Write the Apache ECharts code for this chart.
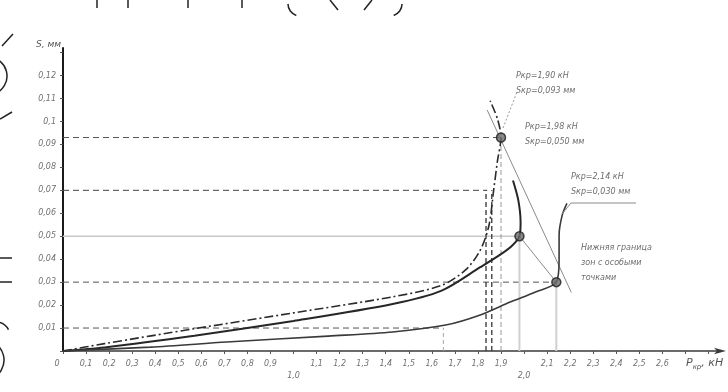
<!DOCTYPE html>
<html>
<head>
<meta charset="utf-8">
<script src="https://cdn.jsdelivr.net/npm/echarts@6/dist/echarts.min.js"></script>
<style>
  html, body { margin: 0; padding: 0; background: #fff; }
  #chart { width: 728px; height: 392px; }
</style>
</head>
<body>
<div id="chart"></div>
<script>
// Load P (кН) versus deflection S (мм) for three loading cases
const curveDashDot = [
  [0, 0], [0.18, 0.0032], [0.57, 0.0097], [1.0, 0.0166], [1.43, 0.0236],
  [1.64, 0.0285], [1.745, 0.0352], [1.81, 0.0439], [1.848, 0.0548],
  [1.868, 0.07], [1.885, 0.083], [1.90, 0.093], [1.885, 0.101], [1.853, 0.109]
];
const curveMiddle = [
  [0, 0], [0.18, 0.0015], [0.57, 0.0066], [1.0, 0.0131], [1.43, 0.0205],
  [1.64, 0.0262], [1.81, 0.0365], [1.9, 0.0422], [1.95, 0.0461],
  [1.98, 0.05], [1.985, 0.056], [1.975, 0.0657], [1.952, 0.0743]
];
const curveLower = [
  [0, 0], [0.38, 0.0017], [0.71, 0.0039], [1.15, 0.0065], [1.43, 0.0083],
  [1.66, 0.0113], [1.81, 0.0157], [1.94, 0.0213], [2.05, 0.0257],
  [2.14, 0.03], [2.152, 0.0396], [2.152, 0.0504], [2.165, 0.059], [2.186, 0.0643]
];

// Critical (limit) points
const critP = [1.90, 1.98, 2.14];
const critS = [0.093, 0.050, 0.030];

// Horizontal projection levels and where they stop
const levelS = [0.093, 0.07, 0.05, 0.03, 0.01];
const levelP = [1.90, 1.84, 1.98, 2.14, 1.65];
// Vertical drops to the load axis
const dropP = [1.835, 1.86, 1.90, 1.98, 2.14, 1.65];
const dropS = [0.07, 0.07, 0.093, 0.05, 0.03, 0.01];

// Line through the critical points
const critLine = [[1.84, 0.105], [2.205, 0.0255]];

const fmtComma = (v, d) => String(parseFloat(v.toFixed(d))).replace('.', ',');

const series = [];

// projection lines
const levelStyles = [
  { color: '#555', type: [6, 4], width: 1 },
  { color: '#444', type: [6, 4], width: 1 },
  { color: '#c8c8c8', type: 'solid', width: 1.5 },
  { color: '#555', type: [6, 4], width: 1 },
  { color: '#555', type: [6, 4], width: 1 }
];
levelS.forEach((s, i) => {
  series.push({
    type: 'line', silent: true, symbol: 'none', z: 1,
    lineStyle: levelStyles[i],
    data: [[0, s], [levelP[i], s]]
  });
});
const dropStyles = [
  { color: '#333', type: [5, 3], width: 1.3 },
  { color: '#333', type: [5, 3], width: 1.3 },
  { color: '#999', type: [5, 3], width: 1 },
  { color: '#d0d0d0', type: 'solid', width: 2 },
  { color: '#d0d0d0', type: 'solid', width: 2 },
  { color: '#aaa', type: [4, 3], width: 1 }
];
dropP.forEach((p, i) => {
  series.push({
    type: 'line', silent: true, symbol: 'none', z: 1,
    lineStyle: dropStyles[i],
    data: [[p, 0], [p, dropS[i]]]
  });
});

// locus of critical points
series.push({
  type: 'line', silent: true, symbol: 'none', z: 2,
  lineStyle: { color: '#8a8a8a', width: 1 },
  data: critLine
});
series.push({
  type: 'line', silent: true, symbol: 'none', z: 2,
  lineStyle: { color: '#8a8a8a', width: 1 },
  data: [[critP[1], critS[1]], [critP[2], critS[2]]]
});

// load–deflection curves
series.push({
  type: 'line', symbol: 'none', smooth: 0.3, z: 3,
  lineStyle: { color: '#2b2b2b', width: 1.6, type: [9, 3, 2, 3] },
  data: curveDashDot
});
series.push({
  type: 'line', symbol: 'none', smooth: 0.3, z: 3,
  lineStyle: { color: '#262626', width: 2 },
  data: curveMiddle
});
series.push({
  type: 'line', symbol: 'none', smooth: 0.3, z: 3,
  lineStyle: { color: '#3a3a3a', width: 1.6 },
  data: curveLower
});

// critical point markers
series.push({
  type: 'scatter', symbol: 'circle', symbolSize: 9, z: 5,
  itemStyle: { color: '#6a6a6a', borderColor: '#1e1e1e', borderWidth: 1.5 },
  data: critP.map((p, i) => [p, critS[i]])
});

const labelLines = critP.map((p, i) => [
  'Pкр=' + p.toFixed(2).replace('.', ',') + ' кН',
  'Sкр=' + critS[i].toFixed(3).replace('.', ',') + ' мм'
]);
const labelPos = [[516, 68], [525, 119], [571, 169]];

const graphic = [];
labelLines.forEach((lines, i) => {
  graphic.push({
    type: 'text', left: labelPos[i][0], top: labelPos[i][1], z: 10,
    style: { text: lines.join('\n'), font: 'italic 8px DejaVu Sans', fill: '#6e6e6e', lineHeight: 15 }
  });
});
// leader lines and underline
graphic.push(
  { type: 'polyline', z: 10, shape: { points: [[503, 128], [517, 92]] }, style: { stroke: '#9a9a9a', lineWidth: 1, lineDash: [2, 2] } },
  { type: 'polyline', z: 10, shape: { points: [[562, 214], [571, 203], [636, 203]] }, style: { stroke: '#8a8a8a', lineWidth: 1 } },
  { type: 'text', left: 581, top: 240, z: 10,
    style: { text: 'Нижняя граница\nзон с особыми\nточками', font: 'italic 8px DejaVu Sans', fill: '#6e6e6e', lineHeight: 15 } },
  // axis titles
  { type: 'text', left: 36, top: 40, z: 10,
    style: { text: 'S, мм', font: 'italic 9px DejaVu Sans', fill: '#555' } },
  { type: 'text', left: 686, top: 358, z: 10,
    style: {
      text: '{p|P}{s|кр}{p|, кН}',
      rich: {
        p: { font: 'italic 11px DejaVu Sans', fill: '#555' },
        s: { font: 'italic 7px DejaVu Sans', fill: '#555', padding: [8, 0, 0, 0] }
      }
    } }
);
// fragments of neighbouring drawings at the page edges
const edge = { stroke: '#222', lineWidth: 1.5, fill: 'none' };
[97, 128, 188, 242].forEach(x => {
  graphic.push({ type: 'line', z: 10, shape: { x1: x, y1: 0, x2: x, y2: 8 }, style: edge });
});
graphic.push(
  { type: 'arc', z: 10, shape: { cx: 300, cy: 4, r: 12, startAngle: Math.PI * 0.6, endAngle: Math.PI * 1.0, clockwise: true }, style: edge },
  { type: 'line', z: 10, shape: { x1: 330, y1: 0, x2: 338, y2: 10 }, style: edge },
  { type: 'line', z: 10, shape: { x1: 372, y1: 0, x2: 364, y2: 10 }, style: edge },
  { type: 'arc', z: 10, shape: { cx: 390, cy: 4, r: 12, startAngle: 0, endAngle: Math.PI * 0.4, clockwise: true }, style: edge },
  { type: 'line', z: 10, shape: { x1: 2, y1: 46, x2: 13, y2: 34 }, style: edge },
  { type: 'arc', z: 10, shape: { cx: -12, cy: 76, r: 19, startAngle: -Math.PI / 3, endAngle: Math.PI / 3, clockwise: true }, style: edge },
  { type: 'line', z: 10, shape: { x1: 0, y1: 119, x2: 12, y2: 112 }, style: edge },
  { type: 'line', z: 10, shape: { x1: 0, y1: 258, x2: 12, y2: 258 }, style: edge },
  { type: 'line', z: 10, shape: { x1: 0, y1: 282, x2: 12, y2: 282 }, style: edge },
  { type: 'arc', z: 10, shape: { cx: -4, cy: 336, r: 14, startAngle: -Math.PI * 0.5, endAngle: -Math.PI * 0.15, clockwise: true }, style: edge },
  { type: 'arc', z: 10, shape: { cx: -16, cy: 360, r: 20, startAngle: -Math.PI / 3, endAngle: Math.PI / 3, clockwise: true }, style: edge }
);

const chart = echarts.init(document.getElementById('chart'), null, { renderer: 'canvas' });
chart.setOption({
  animation: false,
  backgroundColor: '#ffffff',
  grid: { left: 63, right: 8, top: 48, bottom: 41, containLabel: false },
  xAxis: {
    type: 'value', min: 0, max: 2.85, interval: 0.1,
    axisLine: { lineStyle: { color: '#3a3a3a', width: 1.5 }, symbol: ['none', 'arrow'], symbolSize: [5, 12], symbolOffset: [0, 6] },
    axisTick: { show: true, length: 3, lineStyle: { color: '#555' } },
    splitLine: { show: false },
    axisLabel: {
      margin: 9,
      fontSize: 8, fontStyle: 'italic', fontFamily: 'DejaVu Sans', color: '#707070',
      showMaxLabel: false,
      formatter: v => {
        if (v > 2.65) return '';
        if (v === 0) return '{z|0}';
        const r = Math.round(v * 10);
        if (r === 10 || r === 20) return '{low|' + (r / 10) + ',0}';
        return fmtComma(v, 1);
      },
      rich: {
        z: { padding: [0, 12, 0, 0], fontSize: 8, fontStyle: 'italic', color: '#707070' },
        low: { padding: [12, 0, 0, 0], fontSize: 8, fontStyle: 'italic', color: '#707070' }
      }
    }
  },
  yAxis: {
    type: 'value', min: 0, max: 0.132, interval: 0.01,
    axisLine: { show: true, lineStyle: { color: '#1a1a1a', width: 2 } },
    axisTick: { show: true, length: 3, lineStyle: { color: '#555' } },
    splitLine: { show: false },
    axisLabel: {
      margin: 7,
      fontSize: 8, fontStyle: 'italic', fontFamily: 'DejaVu Sans', color: '#707070',
      showMaxLabel: false,
      formatter: v => (v === 0 || v > 0.125) ? '' : fmtComma(v, 2)
    }
  },
  series: series,
  graphic: graphic
});
</script>
</body>
</html>
